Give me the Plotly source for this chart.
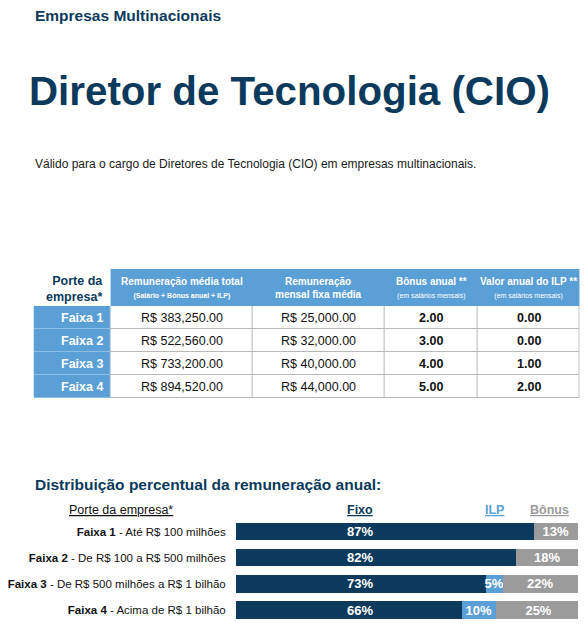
import plotly.graph_objects as go

# Data
faixas = ['Faixa 1', 'Faixa 2', 'Faixa 3', 'Faixa 4']
remun_total = [383250.00, 522560.00, 733200.00, 894520.00]
remun_fixa = [25000.00, 32000.00, 40000.00, 44000.00]
bonus_anual = [2.00, 3.00, 4.00, 5.00]
valor_ilp = [0.00, 0.00, 1.00, 2.00]

porte_labels = [
    '<b>Faixa 1</b> - Até R$ 100 milhões',
    '<b>Faixa 2</b> - De R$ 100 a R$ 500 milhões',
    '<b>Faixa 3</b> - De R$ 500 milhões a R$ 1 bilhão',
    '<b>Faixa 4</b> - Acima de R$ 1 bilhão',
]
pct_fixo = [87, 82, 73, 66]
pct_ilp = [0, 0, 5, 10]
pct_bonus = [13, 18, 22, 25]

# Page is drawn inside the 8px body margin of the html page
OFF = 8
W, H = 588 - 2 * OFF, 634 - 2 * OFF
NAVY = '#0b3a5c'
BLUE = '#5a9fd6'
GRAY = '#9b9b9b'
LINE = '#b8b8b8'
FONT = 'Liberation Sans, Arial, Helvetica, sans-serif'


def px(x):
    return (x - OFF) / W


def py(y):
    return 1 - (y - OFF) / H


fig = go.Figure()

# ---- Table (cells drawn as heatmap bricks) ----
col_w = [77, 143, 132, 94, 102]
row_h = [37, 23, 23, 23, 23]
x_edges = [0]
for w in col_w:
    x_edges.append(x_edges[-1] + w)
y_edges = [0]
for h in row_h:
    y_edges.append(y_edges[-1] + h)

# 0 white, 1 blue, 2 grid grey, 3 light blue separators
cscale = [[0, 'white'], [1 / 3, BLUE], [2 / 3, LINE], [1, '#8cbde6']]
under_z = [[0, 1, 1, 1, 1]] + [[3, 2, 2, 2, 2] for _ in faixas]
body_z = [[1, 0, 0, 0, 0] for _ in faixas]

fig.add_trace(go.Heatmap(
    x=x_edges, y=y_edges, z=under_z, zmin=0, zmax=3, colorscale=cscale,
    showscale=False, hoverinfo='skip', xaxis='x2', yaxis='y2',
))
fig.add_trace(go.Heatmap(
    x=x_edges, y=y_edges[1:], z=body_z, zmin=0, zmax=3, colorscale=cscale,
    showscale=False, hoverinfo='skip', xgap=1, ygap=1, xaxis='x2', yaxis='y2',
))

annotations = []
small = "<span style='font-size:7px'>%s</span>"
header_vals = [
    '<b>Porte da<br>empresa*</b>',
    '<b>Remuneração média total</b><br><b>' + small % '(Salário + Bônus anual + ILP)' + '</b>',
    '<b>Remuneração<br>mensal fixa média</b>',
    '<b>Bônus anual **</b><br>' + small % '(em salários mensais)',
    '<b>Valor anual do ILP **</b><br>' + small % '(em salários mensais)',
]
cell_vals = [
    ['<b>%s</b>' % f for f in faixas],
    ['R$ {:,.2f}'.format(v) for v in remun_total],
    ['R$ {:,.2f}'.format(v) for v in remun_fixa],
    ['<b>{:.2f}</b>'.format(v) for v in bonus_anual],
    ['<b>{:.2f}</b>'.format(v) for v in valor_ilp],
]

for j, txt in enumerate(header_vals):
    if j == 0:
        annotations.append(dict(x=x_edges[1] - 5, y=row_h[0] / 2 + 1, xref='x2', yref='y2',
                                xanchor='right', yanchor='middle', text=txt,
                                showarrow=False, align='right',
                                font=dict(family=FONT, size=12.5, color=NAVY)))
    else:
        annotations.append(dict(x=(x_edges[j] + x_edges[j + 1]) / 2, y=row_h[0] / 2,
                                xref='x2', yref='y2', xanchor='center', yanchor='middle',
                                text=txt, showarrow=False,
                                font=dict(family=FONT, size=10, color='white')))

for j, col in enumerate(cell_vals):
    for i, txt in enumerate(col):
        yc = (y_edges[i + 1] + y_edges[i + 2]) / 2
        if j == 0:
            annotations.append(dict(x=x_edges[1] - 5, y=yc, xref='x2', yref='y2',
                                    xanchor='right', yanchor='middle', text=txt,
                                    showarrow=False,
                                    font=dict(family=FONT, size=12.5, color='white')))
        else:
            annotations.append(dict(x=(x_edges[j] + x_edges[j + 1]) / 2, y=yc,
                                    xref='x2', yref='y2', xanchor='center', yanchor='middle',
                                    text=txt, showarrow=False,
                                    font=dict(family=FONT, size=12.5, color='#111111')))

# ---- Stacked bars ----
fig.add_trace(go.Bar(
    y=porte_labels, x=pct_fixo, orientation='h', name='Fixo',
    marker=dict(color=NAVY, line=dict(width=0)), hoverinfo='x',
))
fig.add_trace(go.Bar(
    y=porte_labels, x=pct_ilp, orientation='h', name='ILP',
    marker=dict(color=BLUE, line=dict(width=0)),
    text=['' if v == 0 else '%d%%' % v for v in pct_ilp],
    textposition='inside', insidetextanchor='middle', textangle=0,
    textfont=dict(family=FONT, size=13, color='white', weight='bold'),
    hoverinfo='x',
))
fig.add_trace(go.Bar(
    y=porte_labels, x=pct_bonus, orientation='h', name='Bônus',
    marker=dict(color=GRAY, line=dict(width=0)),
    text=['%d%%' % v for v in pct_bonus],
    textposition='inside', insidetextanchor='middle', textangle=0,
    textfont=dict(family=FONT, size=13, color='white', weight='bold'),
    hoverinfo='x',
))

# Fixo labels sit in one column under the "Fixo" header
fixo_x = 36.4
for lab, v in zip(porte_labels, pct_fixo):
    annotations.append(dict(x=fixo_x, y=lab, xref='x', yref='y', text='<b>%d%%</b>' % v,
                            xanchor='center', yanchor='middle', showarrow=False,
                            font=dict(family=FONT, size=13, color='white')))

hdr_y = py(510)
annotations += [
    dict(x=px(119), y=hdr_y, xref='paper', yref='paper', xanchor='center', yanchor='middle',
         text='<u>Porte da empresa*</u>', showarrow=False,
         font=dict(family=FONT, size=12.5, color='#111111')),
    dict(x=fixo_x, y=hdr_y, xref='x', yref='paper', xanchor='center', yanchor='middle',
         text='<b><u>Fixo</u></b>', showarrow=False,
         font=dict(family=FONT, size=12.5, color=NAVY)),
    dict(x=75.5, y=hdr_y, xref='x', yref='paper', xanchor='center', yanchor='middle',
         text='<b><u>ILP</u></b>', showarrow=False,
         font=dict(family=FONT, size=12.5, color=BLUE)),
    dict(x=91.8, y=hdr_y, xref='x', yref='paper', xanchor='center', yanchor='middle',
         text='<b><u>Bônus</u></b>', showarrow=False,
         font=dict(family=FONT, size=12.5, color=GRAY)),
]

# ---- Page texts ----
annotations += [
    dict(x=px(31), y=py(16), xref='paper', yref='paper', xanchor='left', yanchor='middle',
         text='<b>Empresas Multinacionais</b>', showarrow=False,
         font=dict(family=FONT, size=15.5, color=NAVY)),
    dict(x=px(25.5), y=py(92), xref='paper', yref='paper', xanchor='left', yanchor='middle',
         text='<b>Diretor de Tecnologia (CIO)</b>', showarrow=False,
         font=dict(family=FONT, size=40.3, color=NAVY)),
    dict(x=px(31), y=py(164), xref='paper', yref='paper', xanchor='left', yanchor='middle',
         text='Válido para o cargo de Diretores de Tecnologia (CIO) em empresas multinacionais.',
         showarrow=False, font=dict(family=FONT, size=12, color='#1a1a1a')),
    dict(x=px(31), y=py(484), xref='paper', yref='paper', xanchor='left', yanchor='middle',
         text='<b>Distribuição percentual da remuneração anual:</b>', showarrow=False,
         font=dict(family=FONT, size=15.5, color=NAVY)),
]

fig.update_layout(
    width=W, height=H,
    margin=dict(l=0, r=0, t=0, b=0),
    paper_bgcolor='white', plot_bgcolor='white',
    barmode='stack', bargap=0.33,
    showlegend=False,
    uniformtext=dict(minsize=12, mode='show'),
    annotations=annotations,
    xaxis=dict(domain=[px(234.5), px(578)], range=[0, 100], visible=False, fixedrange=True),
    yaxis=dict(domain=[py(623.1), py(518.4)], autorange='reversed',
               showgrid=False, zeroline=False, showline=False,
               ticks='', ticklabelstandoff=9,
               tickfont=dict(family=FONT, size=11.5, color='#111111'), fixedrange=True),
    xaxis2=dict(domain=[px(31.7), px(31.7 + x_edges[-1])], range=[0, x_edges[-1]],
                visible=False, fixedrange=True, anchor='y2'),
    yaxis2=dict(domain=[py(269 + y_edges[-1]), py(269)], range=[y_edges[-1], 0],
                visible=False, fixedrange=True, anchor='x2'),
)

fig.write_html("out.html")
